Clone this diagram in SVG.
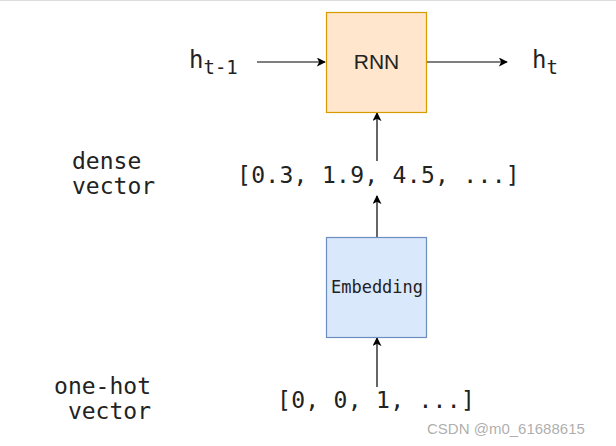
<svg xmlns="http://www.w3.org/2000/svg" width="616" height="446" viewBox="0 0 616 446">
<defs>
<marker id="arr" viewBox="0 0 10 10" refX="9" refY="5" markerWidth="9" markerHeight="9" markerUnits="userSpaceOnUse" orient="auto">
<path d="M0,0 L10,5 L0,10 L2.5,5 Z" fill="#000"/>
</marker>
<style>
.mono{font-family:"DejaVu Sans Mono","Liberation Mono",monospace;fill:#222}
.vec{letter-spacing:0.3px}
.conn{stroke:#000;stroke-width:1.2;fill:none;marker-end:url(#arr)}
</style>
</defs>
<rect x="0" y="0" width="616" height="446" fill="#fff"/>
<line x1="0" y1="0.5" x2="616" y2="0.5" stroke="#ddd"/>
<g id="connectors">
<line class="conn" x1="257" y1="62" x2="325" y2="62"/>
<line class="conn" x1="427" y1="62" x2="507" y2="62"/>
<line class="conn" x1="377" y1="161" x2="377" y2="113"/>
<line class="conn" x1="377" y1="237" x2="377" y2="196"/>
<line class="conn" x1="377" y1="387" x2="377" y2="338"/>
</g>
<g id="rnn">
<rect x="326.5" y="12.5" width="100" height="100" fill="#ffe6cc" stroke="#d79b00" stroke-width="1.2"/>
<text x="376.5" y="69" text-anchor="middle" font-family="Liberation Sans, Arial, sans-serif" font-size="21" fill="#222">RNN</text>
</g>
<g id="embedding">
<rect x="326.5" y="237.5" width="100" height="100" fill="#dae8fc" stroke="#6c8ebf" stroke-width="1.2"/>
<text class="mono" x="377" y="293" text-anchor="middle" font-size="17">Embedding</text>
</g>
<g id="h_prev">
<text class="mono" x="189" y="68" font-size="24">h<tspan font-size="19" dy="6">t-1</tspan></text>
</g>
<g id="h_t">
<text class="mono" x="532" y="68" font-size="24">h<tspan font-size="19" dy="6">t</tspan></text>
</g>
<g id="dense_label">
<text class="mono" x="72" y="169" font-size="23">dense</text>
<text class="mono" x="72" y="194" font-size="23">vector</text>
</g>
<g id="dense_vec">
<text class="mono vec" x="237" y="183" font-size="23">[0.3, 1.9, 4.5, ...]</text>
</g>
<g id="onehot_label">
<text class="mono" x="151" y="394" text-anchor="end" font-size="23">one-hot</text>
<text class="mono" x="151" y="419" text-anchor="end" font-size="23">vector</text>
</g>
<g id="onehot_vec">
<text class="mono vec" x="277" y="408" font-size="23">[0, 0, 1, ...]</text>
</g>
<text x="427" y="434" font-family="Liberation Sans, Arial, sans-serif" font-size="15" fill="#999" fill-opacity="0.8">CSDN @m0_61688615</text>
</svg>
